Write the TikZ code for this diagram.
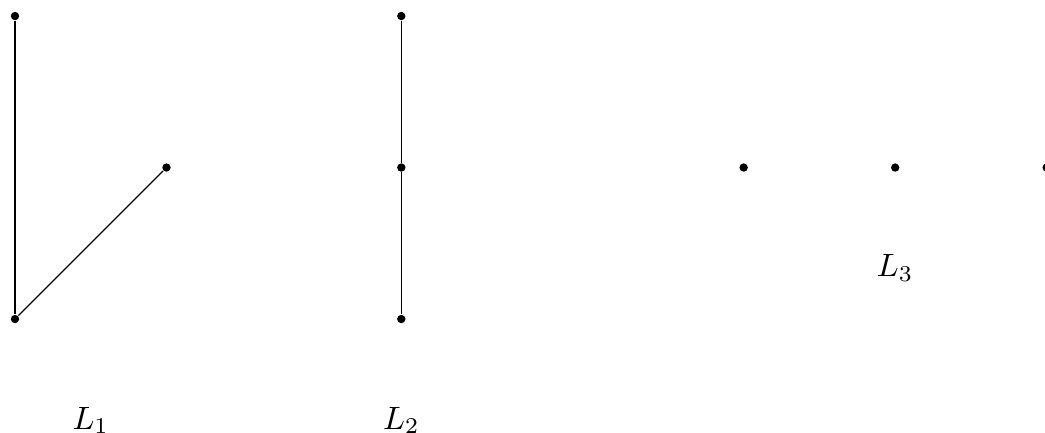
\documentclass[tikz,border=0pt]{standalone}
\usepackage{amsmath,amssymb}
\usepackage{tikz}
\tikzset{
  vertex/.style={circle, fill=black, inner sep=0pt, minimum size=2.6pt},
  edge/.style={line width=0.4pt},
  lname/.style={inner sep=1pt}
}

\begin{document}
\begin{tikzpicture}[x=1.65cm, y=1.65cm]
  \useasboundingbox (-0.099,-0.746) rectangle (6.799,2.106);
  % first graph
  \node[vertex] (a1) at (0,2) {};
  \node[vertex] (a2) at (1,1) {};
  \node[vertex] (a3) at (0,0) {};
  \draw[edge] (a1)--(a3);
  \draw[edge] (a3)--(a2);
  \node[lname] (l1) at (0.5,-0.67) {$L_1$};
  % second graph
  \node[vertex] (b1) at (2.55,2) {};
  \node[vertex] (b2) at (2.55,1) {};
  \node[vertex] (b3) at (2.55,0) {};
  \draw[edge] (b1)--(b2);
  \draw[edge] (b2)--(b3);
  \node[lname] (l2) at (2.55,-0.67) {$L_2$};
  % third graph
  \node[vertex] (c1) at (4.81,1) {};
  \node[vertex] (c2) at (5.81,1) {};
  \node[vertex] (c3) at (6.81,1) {};
  \node[lname] (l3) at (5.81,0.335) {$L_3$};
\end{tikzpicture}
\end{document}
